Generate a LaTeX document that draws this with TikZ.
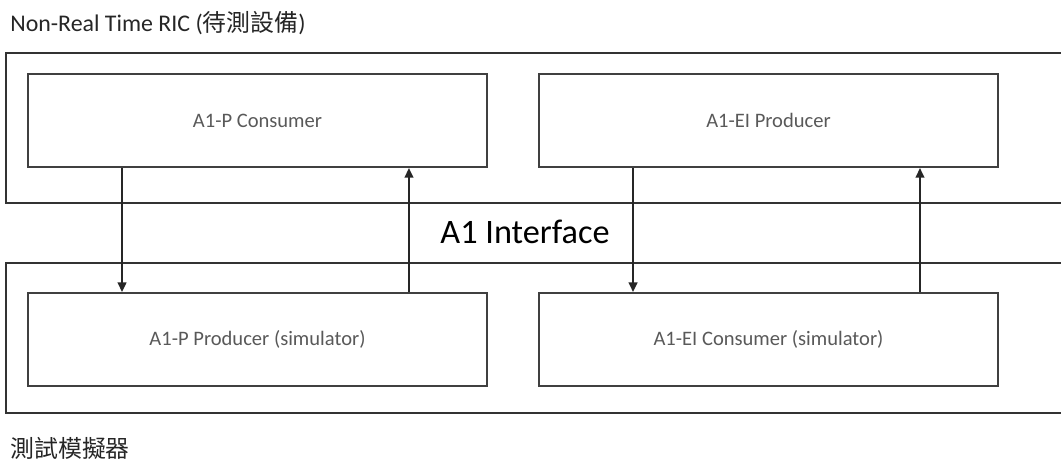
\documentclass[tikz,border=0pt]{standalone}
\usepackage{fontspec}
\setmainfont{Carlito}
\newfontfamily\cjk{Noto Sans CJK TC}
\usetikzlibrary{positioning,arrows.meta}
\definecolor{boxBorder}{HTML}{404040}
\definecolor{groupBorder}{HTML}{333333}
\definecolor{labelText}{HTML}{595959}
\definecolor{titleText}{HTML}{262626}

\begin{document}
\begin{tikzpicture}[
    x=0.02cm, y=-0.02cm,
    block/.style={
        rectangle, draw=boxBorder,
        minimum width=9.18cm, minimum height=1.86cm,
        text centered, line width=1.2pt, text=labelText,
        font=\fontsize{11.7}{14}\selectfont
    },
    group/.style={
        rectangle, draw=groupBorder,
        minimum width=21.48cm, minimum height=3cm,
        line width=1.2pt
    },
    caption/.style={anchor=west, inner sep=0pt, text=titleText,
        font=\fontsize{13.6}{16}\selectfont},
    arrow/.style={-{Triangle[length=5.5pt,width=5pt]}, line width=1pt, draw=black!85}
]
  \useasboundingbox (0,0) rectangle (1061,464);
  \clip (0,0) rectangle (1061,464);

  % Groups
  \node[group] (ric) at (543,128) {};
  \node[group] (sim) at (543,338) {};
  \node[caption] (ricTitle) at (10,23) {Non-Real Time RIC ({\cjk 待測設備})};
  \node[caption] (simTitle) at (10,448) {\cjk 測試模擬器};

  % Nodes
  \node[block] (pConsumer) at (257.5,120.5) {A1-P Consumer};
  \node[block, right=1cm of pConsumer] (eiProducer) {A1-EI Producer};
  \node[block, below=2.48cm of pConsumer] (pProducer) {A1-P Producer (simulator)};
  \node[block, right=1cm of pProducer] (eiConsumer) {A1-EI Consumer (simulator)};

  \node[font=\fontsize{19.5}{23}\selectfont, text=black] (iface) at (525,232) {A1 Interface};

  % Edges
  \draw[arrow] ([xshift=-2.71cm]pConsumer.south) -- ([xshift=-2.71cm]pProducer.north);
  \draw[arrow] ([xshift=3.03cm]pProducer.north) -- ([xshift=3.03cm]pConsumer.south);
  \draw[arrow] ([xshift=-2.71cm]eiProducer.south) -- ([xshift=-2.71cm]eiConsumer.north);
  \draw[arrow] ([xshift=3.03cm]eiConsumer.north) -- ([xshift=3.03cm]eiProducer.south);

\end{tikzpicture}
\end{document}
